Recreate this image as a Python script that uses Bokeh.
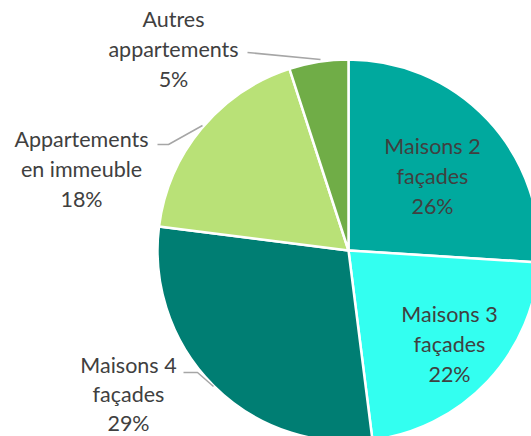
import math
from bokeh.plotting import figure
from bokeh.models import Range1d, ColumnDataSource
from bokeh.core.properties import value
from bokeh.embed import file_html
from bokeh.resources import INLINE

categories = ["Maisons 2 façades", "Maisons 3 façades", "Maisons 4 façades",
              "Appartements en immeuble", "Autres appartements"]
shares = [26, 22, 29, 18, 5]
colors = ["#00A99E", "#33FFF0", "#007E73", "#B9E177", "#70AD47"]
label_lines = [["Maisons 2", "façades", "26%"],
               ["Maisons 3", "façades", "22%"],
               ["Maisons 4", "façades", "29%"],
               ["Appartements", "en immeuble", "18%"],
               ["Autres", "appartements", "5%"]]

W, H = 531, 436
p = figure(width=W, height=H, output_backend="svg", toolbar_location=None,
           x_range=Range1d(0, W), y_range=Range1d(0, H), min_border=0)
p.axis.visible = False
p.grid.visible = False
p.outline_line_color = None

def sx(x):
    return x

def sy(y):
    return H - y

cx, cy, r = sx(348), sy(250), 191
total = sum(shares)
starts, ends = [], []
cum = 0
for s in shares:
    starts.append(math.pi / 2 - 2 * math.pi * cum / total)
    cum += s
    ends.append(math.pi / 2 - 2 * math.pi * cum / total)

src = ColumnDataSource(dict(start=starts, end=ends, color=colors, cat=categories))
p.wedge(x=cx, y=cy, radius=r, start_angle="start", end_angle="end",
        direction="clock", fill_color="color", line_color="white", line_width=2.5,
        source=src)

# leader lines (screen coords)
leaders = [
    ([247, 320], [52, 59]),
    ([157, 168, 202], [144, 144, 125]),
    ([183, 197, 213], [372, 372, 386]),
]
for xs, ys in leaders:
    p.line([sx(x) for x in xs], [sy(y) for y in ys], line_color="#A6A6A6", line_width=1.5)

# label centers (screen coords) for first line, and line spacing
label_pos = [(432, 145, 30), (449, 313, 30), (128, 364, 29), (81, 138, 30), (173, 18, 30)]
tx, ty, tt = [], [], []
for (x, y, dy), lines in zip(label_pos, label_lines):
    for i, t in enumerate(lines):
        tx.append(sx(x))
        ty.append(sy(y + dy * i))
        tt.append(t)
p.text(x=tx, y=ty, text=tt, text_align="center", text_baseline="middle",
       text_font=value("Lato"), text_font_size="21.5px", text_color="#404040")

open("out.html", "w").write(file_html(p, INLINE))
